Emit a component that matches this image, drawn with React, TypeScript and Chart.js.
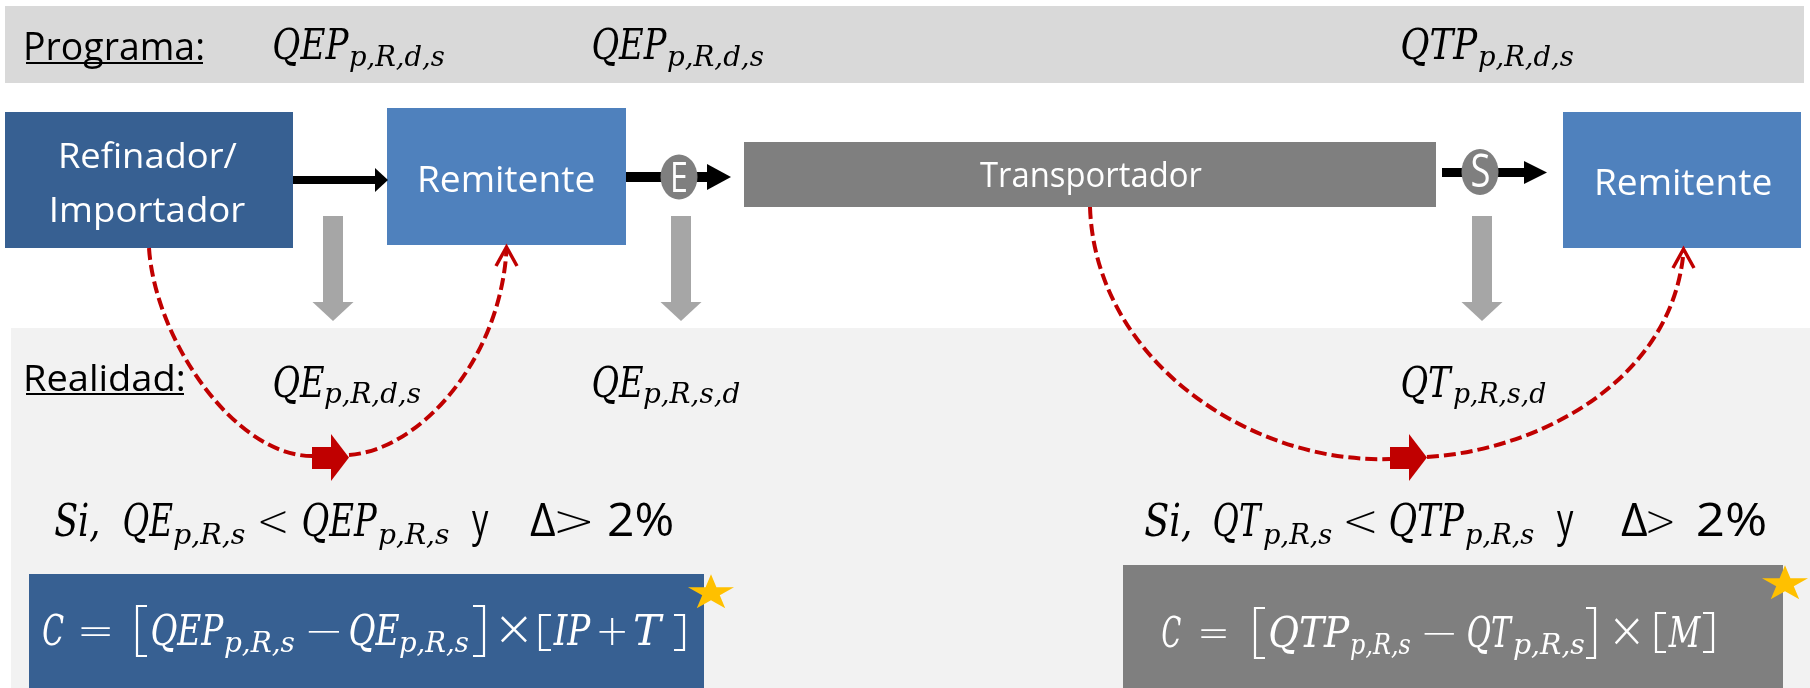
import { useEffect, useRef } from "react";
import { Chart, registerables } from "chart.js";

Chart.register(...registerables);

const WIDTH = 1810;
const HEIGHT = 688;

// ---------- content (labels / values) ----------
const stageLabels = ["Programa:", "Realidad:"];
const nodeLabels = ["Refinador/\nImportador", "Remitente", "Transportador", "Remitente"];
const portLabels = ["E", "S"];
const plannedQuantities = ["QEP_{p,R,d,s}", "QEP_{p,R,d,s}", "QTP_{p,R,d,s}"];
const actualQuantities = ["QE_{p,R,d,s}", "QE_{p,R,s,d}", "QT_{p,R,s,d}"];
const deviationThreshold = ["Δ", ">", "2%"];
const conditionEntry = ["Si,", "QE_{p,R,s}", "<", "QEP_{p,R,s}", "y", ...deviationThreshold];
const conditionExit = ["Si,", "QT_{p,R,s}", "<", "QTP_{p,R,s}", "y", ...deviationThreshold];
const chargeEntry = ["C", "=", "[", "QEP_{p,R,s}", "−", "QE_{p,R,s}", "]", "×", "[", "IP", "+", "T", "]"];
const chargeExit = ["C", "=", "[", "QTP_{p,R,s}", "−", "QT_{p,R,s}", "]", "×", "[", "M", "]"];

// ---------- styles ----------
const DARK_BLUE = "#376092";
const MID_BLUE = "#4f81bd";
const GREY = "#7f7f7f";
const LIGHT_GREY_ARROW = "#a6a6a6";
const BAND_TOP = "#d9d9d9";
const BAND_LOW = "#f2f2f2";
const RED = "#c00000";
const GOLD = "#ffc000";
const SANS = "'Open Sans', 'DejaVu Sans', sans-serif";
const MATH = "'DejaVu Serif', 'Liberation Serif', serif";
const OPS = "'DejaVu Sans', 'Liberation Sans', sans-serif";

// ---------- layout (scale units, 1 unit = 1 px) ----------
const LAYOUT = {
  topBand: [5, 6, 1804, 83],
  lowBand: [11, 328, 1810, 688],
  stage: [
    { x0: 26, x1: 203, y: 60, ul: 62, size: 38 },
    { x0: 26, x1: 184, y: 391, ul: 393, size: 37 },
  ],
  nodes: [
    { box: [5, 112, 293, 248], fill: DARK_BLUE, size: 35, lines: [[61, 237, 168], [52, 245, 222]] },
    { box: [387, 108, 626, 245], fill: MID_BLUE, size: 36, lines: [[420, 594, 192]] },
    { box: [744, 142, 1436, 207], fill: GREY, size: 34, lines: [[980, 1202, 187]] },
    { box: [1563, 112, 1801, 248], fill: MID_BLUE, size: 36, lines: [[1597, 1771, 195]] },
  ],
  flow: [
    { x0: 293, tip: 388, y: 180, t: 8, hl: 13, hh: 12 },
    { x0: 626, tip: 731, y: 177, t: 10, hl: 24, hh: 13 },
    { x0: 1442, tip: 1547, y: 172.5, t: 9, hl: 23, hh: 11.5 },
  ],
  ports: [
    { cx: 679, cy: 177, rx: 18.5, ry: 22.5, tx: [673, 686], ty: 192, size: 42 },
    { cx: 1480, cy: 172, rx: 18.5, ry: 23, tx: [1472, 1489], ty: 187, size: 45 },
  ],
  down: { xs: [333, 681, 1482], top: 216, headTop: 302, tip: 321, half: 10, headHalf: 20.5 },
  planned: { y: 59, size: 42, sub: 27, shift: 7, pos: [[274, 349, 444], [593, 667, 763], [1402, 1478, 1573]] },
  actual: { y: 397, size: 42, sub: 27, shift: 6, pos: [[274, 324, 420], [593, 643, 740], [1402, 1453, 1546]] },
  condEntry: {
    y: 536, size: 44, sub: 28, shift: 8,
    pos: [[55, 98], [124, 173, 245], [260, 286], [303, 378, 449], [472, 489], [530, 555], [557, 591], [609, 672]],
  },
  condExit: {
    y: 536, size: 44, sub: 28, shift: 8,
    pos: [[1145, 1190], [1214, 1263, 1332], [1346, 1375], [1390, 1465, 1534], [1557, 1574], [1621, 1647], [1648, 1673], [1698, 1765]],
  },
  chargeEntry: {
    box: [29, 574, 704, 688], fill: DARK_BLUE, y: 645, size: 42, sub: 27, shift: 7,
    pos: [[43, 64], [81, 110], [136, 147, 606, 656], [152, 224, 294], [308, 339], [350, 399, 468], [473, 485, 606, 656], [501, 527], [539, 551, 615, 650], [553, 591], [599, 625], [634, 664], [674, 685, 615, 650]],
    star: [711, 593],
  },
  chargeExit: {
    box: [1123, 565, 1783, 688], fill: GREY, y: 647, size: 42, sub: 27, shift: 7,
    pos: [[1162, 1181], [1201, 1226], [1254, 1265, 608, 658], [1270, 1350, 1410], [1424, 1454], [1468, 1513, 1584], [1586, 1596, 608, 658], [1615, 1639], [1655, 1666, 613, 652], [1668, 1701], [1703, 1714, 613, 652]],
    star: [1785, 584],
  },
  curves: [
    {
      a: [[149, 248], [155, 340], [235, 456], [312, 456]],
      b: [[349, 455], [420, 450], [500, 360], [506.5, 250]],
      chevron: [[496, 266], [506.5, 247], [517, 266]],
      block: 312,
    },
    {
      a: [[1090, 207], [1095, 360], [1250, 464], [1390, 459]],
      b: [[1427, 457], [1540, 450], [1672, 380], [1683.5, 252]],
      chevron: [[1673, 268], [1683.5, 249], [1694, 268]],
      block: 1390,
    },
  ],
};

type Ctx = CanvasRenderingContext2D;

function fitText(ctx: Ctx, text: string, font: string, x0: number, x1: number, base: number) {
  ctx.font = font;
  const m = ctx.measureText(text);
  const L = m.actualBoundingBoxLeft;
  const vis = Math.max(1, L + m.actualBoundingBoxRight);
  const s = (x1 - x0) / vis;
  ctx.save();
  ctx.translate(x0 + L * s, base);
  ctx.scale(s, 1);
  ctx.fillText(text, 0, 0);
  ctx.restore();
}

function tokenKind(tok: string) {
  if (tok === "[" || tok === "]") return "bracket";
  if (tok === "y" || tok === "2%" || tok === "Δ") return "sans";
  if (/[A-Za-z]/.test(tok)) return "math";
  return "op";
}

const diagramPlugin = {
  id: "flowDiagram",
  afterDraw(chart: any) {
    const ctx: Ctx = chart.ctx;
    const X = (v: number) => chart.scales.x.getPixelForValue(v);
    const Y = (v: number) => chart.scales.y.getPixelForValue(v);
    ctx.save();
    ctx.textBaseline = "alphabetic";
    ctx.textAlign = "left";

    const rect = (r: number[], color: string) => {
      ctx.fillStyle = color;
      ctx.fillRect(X(r[0]), Y(r[1]), X(r[2]) - X(r[0]), Y(r[3]) - Y(r[1]));
    };

    const drawToken = (tok: string, pos: number[], base: number, size: number, sub: number, shift: number, color: string) => {
      ctx.fillStyle = color;
      const kind = tokenKind(tok);
      if (kind === "bracket") {
        const [x0, x1, yt, yb] = pos;
        ctx.strokeStyle = color;
        ctx.lineWidth = 2.2;
        ctx.beginPath();
        if (tok === "[") {
          ctx.moveTo(X(x1), Y(yt));
          ctx.lineTo(X(x0) + 1, Y(yt));
          ctx.lineTo(X(x0) + 1, Y(yb));
          ctx.lineTo(X(x1), Y(yb));
        } else {
          ctx.moveTo(X(x0), Y(yt));
          ctx.lineTo(X(x1) - 1, Y(yt));
          ctx.lineTo(X(x1) - 1, Y(yb));
          ctx.lineTo(X(x0), Y(yb));
        }
        ctx.stroke();
        return;
      }
      if (kind === "sans") {
        fitText(ctx, tok, `${size + 2}px ${SANS}`, X(pos[0]), X(pos[pos.length - 1]), Y(base));
        return;
      }
      if (kind === "op") {
        const extra = tok === "×" ? 8 : 0;
        fitText(ctx, tok, `300 ${size + extra}px ${OPS}`, X(pos[0]), X(pos[pos.length - 1]), Y(base));
        return;
      }
      const m = tok.match(/^(.*?)_\{(.*)\}$/);
      if (m && pos.length === 3) {
        fitText(ctx, m[1], `italic ${size}px ${MATH}`, X(pos[0]), X(pos[1]), Y(base));
        fitText(ctx, m[2], `italic ${sub}px ${MATH}`, X(pos[1]) + 1, X(pos[2]), Y(base + shift));
      } else {
        fitText(ctx, tok, `italic ${size}px ${MATH}`, X(pos[0]), X(pos[pos.length - 1]), Y(base));
      }
    };

    // background + bands
    rect([0, 0, WIDTH, HEIGHT], "#ffffff");
    rect(LAYOUT.topBand, BAND_TOP);
    rect(LAYOUT.lowBand, BAND_LOW);

    // stage labels with underline
    stageLabels.forEach((lbl, i) => {
      const s = LAYOUT.stage[i];
      ctx.fillStyle = "#000";
      fitText(ctx, lbl, `${s.size}px ${SANS}`, X(s.x0), X(s.x1), Y(s.y));
      ctx.fillRect(X(s.x0), Y(s.ul), X(s.x1) - X(s.x0), 2);
    });

    // planned & actual quantities
    plannedQuantities.forEach((q, i) => {
      const p = LAYOUT.planned;
      drawToken(q, p.pos[i], p.y, p.size, p.sub, p.shift, "#000");
    });
    actualQuantities.forEach((q, i) => {
      const p = LAYOUT.actual;
      drawToken(q, p.pos[i], p.y, p.size, p.sub, p.shift, "#000");
    });

    // grey down arrows
    const d = LAYOUT.down;
    ctx.fillStyle = LIGHT_GREY_ARROW;
    d.xs.forEach((cx) => {
      ctx.fillRect(X(cx - d.half), Y(d.top), X(cx + d.half) - X(cx - d.half), Y(d.headTop) - Y(d.top));
      ctx.beginPath();
      ctx.moveTo(X(cx - d.headHalf), Y(d.headTop));
      ctx.lineTo(X(cx + d.headHalf), Y(d.headTop));
      ctx.lineTo(X(cx), Y(d.tip));
      ctx.closePath();
      ctx.fill();
    });

    // nodes
    nodeLabels.forEach((lbl, i) => {
      const n = LAYOUT.nodes[i];
      rect(n.box, n.fill);
      ctx.fillStyle = "#ffffff";
      lbl.split("\n").forEach((line, j) => {
        const [x0, x1, y] = n.lines[j];
        fitText(ctx, line, `${n.size}px ${SANS}`, X(x0), X(x1), Y(y));
      });
    });

    // black flow arrows
    ctx.fillStyle = "#000";
    LAYOUT.flow.forEach((a) => {
      const hs = a.tip - a.hl;
      ctx.fillRect(X(a.x0), Y(a.y - a.t / 2), X(hs) - X(a.x0), Y(a.y + a.t / 2) - Y(a.y - a.t / 2));
      ctx.beginPath();
      ctx.moveTo(X(hs), Y(a.y - a.hh));
      ctx.lineTo(X(a.tip), Y(a.y));
      ctx.lineTo(X(hs), Y(a.y + a.hh));
      ctx.closePath();
      ctx.fill();
    });

    // ports E / S
    portLabels.forEach((lbl, i) => {
      const p = LAYOUT.ports[i];
      ctx.fillStyle = GREY;
      ctx.beginPath();
      ctx.ellipse(X(p.cx), Y(p.cy), p.rx, p.ry, 0, 0, Math.PI * 2);
      ctx.fill();
      ctx.fillStyle = "#ffffff";
      fitText(ctx, lbl, `${p.size}px ${SANS}`, X(p.tx[0]), X(p.tx[1]), Y(p.ty));
    });

    // red dashed curves with block arrows
    LAYOUT.curves.forEach((c) => {
      ctx.strokeStyle = RED;
      ctx.lineWidth = 4;
      ctx.setLineDash([12, 5]);
      [c.a, c.b].forEach((seg) => {
        ctx.beginPath();
        ctx.moveTo(X(seg[0][0]), Y(seg[0][1]));
        ctx.bezierCurveTo(X(seg[1][0]), Y(seg[1][1]), X(seg[2][0]), Y(seg[2][1]), X(seg[3][0]), Y(seg[3][1]));
        ctx.stroke();
      });
      ctx.setLineDash([]);
      ctx.lineWidth = 3.5;
      ctx.beginPath();
      ctx.moveTo(X(c.chevron[0][0]), Y(c.chevron[0][1]));
      ctx.lineTo(X(c.chevron[1][0]), Y(c.chevron[1][1]));
      ctx.lineTo(X(c.chevron[2][0]), Y(c.chevron[2][1]));
      ctx.stroke();
      // block arrow
      const b = c.block;
      ctx.fillStyle = RED;
      ctx.fillRect(X(b), Y(447), X(b + 19.5) - X(b), Y(469) - Y(447));
      ctx.beginPath();
      ctx.moveTo(X(b + 19), Y(434));
      ctx.lineTo(X(b + 37), Y(457.5));
      ctx.lineTo(X(b + 19), Y(481));
      ctx.closePath();
      ctx.fill();
    });

    // conditions
    conditionEntry.forEach((tok, i) => {
      const c = LAYOUT.condEntry;
      drawToken(tok, c.pos[i], c.y, c.size, c.sub, c.shift, "#000");
    });
    conditionExit.forEach((tok, i) => {
      const c = LAYOUT.condExit;
      drawToken(tok, c.pos[i], c.y, c.size, c.sub, c.shift, "#000");
    });

    // charge formulas
    const star = (cx: number, cy: number) => {
      ctx.fillStyle = GOLD;
      ctx.beginPath();
      for (let k = 0; k < 10; k++) {
        const ang = (-90 + k * 36) * (Math.PI / 180);
        const r = k % 2 === 0 ? 1 : 0.382;
        const px = X(cx) + 24.2 * r * Math.cos(ang);
        const py = Y(cy) + 18.8 * r * Math.sin(ang);
        if (k === 0) ctx.moveTo(px, py);
        else ctx.lineTo(px, py);
      }
      ctx.closePath();
      ctx.fill();
    };
    [
      { toks: chargeEntry, f: LAYOUT.chargeEntry },
      { toks: chargeExit, f: LAYOUT.chargeExit },
    ].forEach(({ toks, f }) => {
      rect(f.box, f.fill);
      toks.forEach((tok, i) => drawToken(tok, f.pos[i], f.y, f.size, f.sub, f.shift, "#ffffff"));
      star(f.star[0], f.star[1]);
    });

    ctx.restore();
  },
};

export default function App() {
  const ref = useRef<HTMLCanvasElement>(null);
  useEffect(() => {
    document.body.style.margin = "0";
    const canvas = ref.current;
    if (!canvas) return;
    const chart = new Chart(canvas, {
      type: "scatter",
      data: { datasets: [] },
      options: {
        animation: false,
        responsive: false,
        maintainAspectRatio: false,
        devicePixelRatio: 1,
        events: [],
        layout: { padding: 0 },
        scales: {
          x: { type: "linear", min: 0, max: WIDTH, display: false },
          y: { type: "linear", min: 0, max: HEIGHT, reverse: true, display: false },
        },
        plugins: { legend: { display: false }, tooltip: { enabled: false } },
      },
      plugins: [diagramPlugin],
    });
    return () => chart.destroy();
  }, []);
  return <canvas ref={ref} width={WIDTH} height={HEIGHT} style={{ display: "block", width: WIDTH, height: HEIGHT }} />;
}
